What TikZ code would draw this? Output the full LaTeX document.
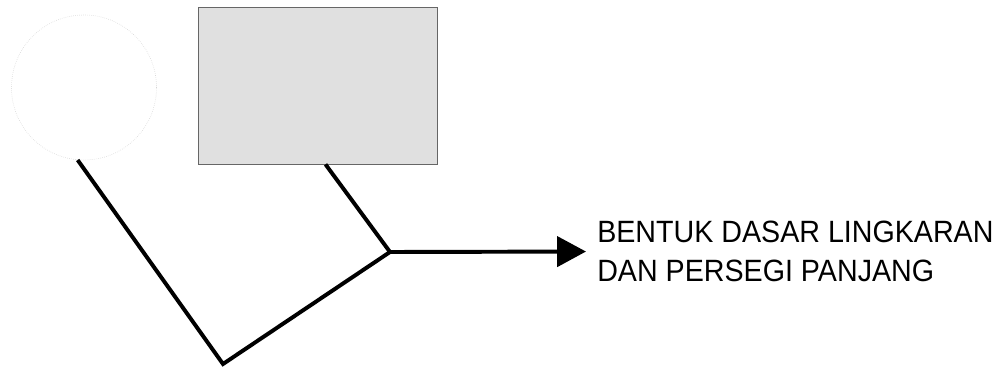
\documentclass[tikz,border=0pt]{standalone}
\usepackage{fontspec}
\setmainfont[FakeStretch=0.93]{Liberation Sans}
\usetikzlibrary{arrows.meta}
\begin{document}
\begin{tikzpicture}[x=0.025cm, y=-0.025cm,
    bentuk/.style={inner sep=0pt, draw},
    garis/.style={line width=2.8pt}]
  \useasboundingbox (0,0) rectangle (1002,369);
  % lingkaran dan persegi panjang
  \node[bentuk, circle, draw=black!18, densely dotted, minimum size=3.625cm] (lingkaran) at (84,87.5) {};
  \node[bentuk, rectangle, fill=black!12, draw=black!60, line width=0.5pt,
    minimum width=5.975cm, minimum height=3.925cm] (persegi) at (317.5,85.5) {};
  \coordinate (bawah) at (223,364);
  \coordinate (temu) at (390,252);
  \node[anchor=west, inner sep=0pt, align=left,
    font=\fontsize{21.9}{27.6}\selectfont] (teks) at (597,251.5)
    {BENTUK DASAR LINGKARAN\\DAN PERSEGI PANJANG};
  % garis
  \draw[garis] (lingkaran.265) -- (bawah) -- (temu);
  \draw[garis] ([xshift=0.2cm]persegi.south) -- (temu);
  \draw[garis, -{Triangle[length=0.72cm, width=0.75cm]}, shorten >=0.275cm] (temu) -- (teks.west);
\end{tikzpicture}
\end{document}
